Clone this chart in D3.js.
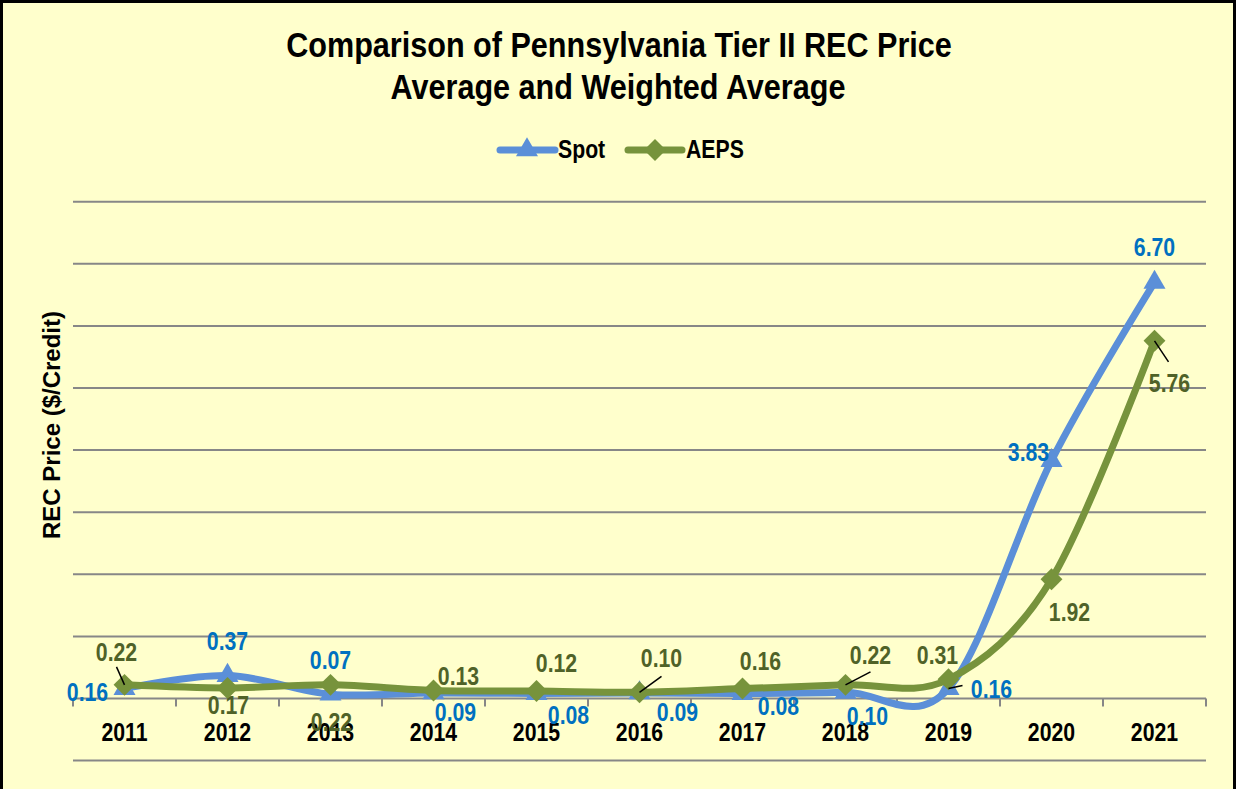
<!DOCTYPE html>
<html><head><meta charset="utf-8">
<script src="https://cdn.jsdelivr.net/npm/d3@7"></script>
<style>html,body{margin:0;padding:0;background:#FFFFCC;}svg{display:block;}</style>
</head><body>
<svg id="chart" width="1236" height="789"></svg>
<script>
const years = ["2011","2012","2013","2014","2015","2016","2017","2018","2019","2020","2021"];
const spot  = [0.16, 0.37, 0.07, 0.09, 0.08, 0.09, 0.08, 0.10, 0.16, 3.83, 6.70];
const aeps  = [0.22, 0.17, 0.22, 0.13, 0.12, 0.10, 0.16, 0.22, 0.31, 1.92, 5.76];
const yTicks = [-1, 0, 1, 2, 3, 4, 5, 6, 7, 8];
const titleLines = ["Comparison of Pennsylvania Tier II REC Price", "Average and Weighted Average"];
const seriesNames = ["Spot", "AEPS"];
const yTitle = "REC Price ($/Credit)";

// label placement (layout only): offsets from the data point
const spotLabelOff = [[-37,3],[0,-35],[0,-34],[22,19],[32,21],[38,19],[36,12],[22,24],[43,0],[-23,-9],[0,-35]];
const aepsLabelOff = [[-8,-33],[1,17],[1,37],[25,-14],[20,-28],[22,-34],[18,-28],[25,-30],[-11,-24],[18,33],[15,42]];
const spotLeader = {8:[14,-3]};
const aepsLeader = {0:[-8,-18], 5:[22,-16], 7:[25,-13], 10:[14,21]};

const SX = 0.85;
const svg = d3.select("#chart");
svg.append("rect").attr("x",0).attr("y",0).attr("width",1236).attr("height",789).attr("fill","#FFFFCC");

const x = d3.scaleBand().domain(years).range([73, 1206]).padding(0);
const y = d3.scaleLinear().domain([-1, 8]).range([760.6, 201.7]);
const cx = d => x(d) + x.bandwidth()/2;

function txt(g, px, py, s, size, fill, anchor, bold=true) {
  return g.append("text")
    .attr("transform", `translate(${px},${py}) scale(${SX},1)`)
    .attr("text-anchor", anchor || "middle")
    .attr("font-family", "'Liberation Sans', Arial, sans-serif")
    .attr("font-weight", bold ? "bold" : "normal")
    .attr("font-size", size)
    .attr("fill", fill)
    .text(s);
}

// gridlines
svg.append("g").selectAll("line").data(yTicks).join("line")
  .attr("x1", 73).attr("x2", 1206)
  .attr("y1", d => y(d)).attr("y2", d => y(d))
  .attr("stroke", "#878787").attr("stroke-width", 2);

// x axis at 0 with ticks between categories
const xAxisG = svg.append("g").attr("transform", `translate(0,${y(0)})`);
const bounds = years.map(d => x(d)).concat([x(years[years.length-1]) + x.bandwidth()]);
xAxisG.selectAll("line.tk").data(bounds).join("line").attr("class","tk")
  .attr("x1", d => d).attr("x2", d => d).attr("y1", 0).attr("y2", 8)
  .attr("stroke", "#878787").attr("stroke-width", 2);

// axis labels
const labG = svg.append("g");
years.forEach(yr => txt(labG, cx(yr), 741, yr, 25, "#000"));

// lines
const line = d3.line().x(d => cx(d.yr)).y(d => y(d.v)).curve(d3.curveCardinal.tension(0));
const spotData = years.map((yr,i) => ({yr, v: spot[i]}));
const aepsData = years.map((yr,i) => ({yr, v: aeps[i]}));
const spotColor = "#5B8FD8", aepsColor = "#77933C";
const spotLab = "#0070C0", aepsLab = "#4F6228";

const tri = d3.symbol().type(d3.symbolTriangle).size(210);
const dia = d3.symbol().type(d3.symbolSquare).size(240);

svg.append("path").datum(spotData).attr("d", line).attr("fill","none")
  .attr("stroke", spotColor).attr("stroke-width", 7).attr("stroke-linecap","round");
svg.append("g").selectAll("path").data(spotData).join("path")
  .attr("d", tri).attr("transform", d => `translate(${cx(d.yr)},${y(d.v)})`).attr("fill", spotColor);

svg.append("path").datum(aepsData).attr("d", line).attr("fill","none")
  .attr("stroke", aepsColor).attr("stroke-width", 7).attr("stroke-linecap","round");
svg.append("g").selectAll("path").data(aepsData).join("path")
  .attr("d", dia).attr("transform", d => `translate(${cx(d.yr)},${y(d.v)}) rotate(45)`).attr("fill", aepsColor);

// leader lines
const ldG = svg.append("g");
function leaders(data, map) {
  Object.keys(map).forEach(k => {
    const d = data[+k], o = map[k];
    ldG.append("line").attr("x1", cx(d.yr)).attr("y1", y(d.v))
      .attr("x2", cx(d.yr)+o[0]).attr("y2", y(d.v)+o[1])
      .attr("stroke","#000").attr("stroke-width",1.5);
  });
}
leaders(aepsData, aepsLeader);
leaders(spotData, spotLeader);

// data labels
const dlG = svg.append("g");
spotData.forEach((d,i) => txt(dlG, cx(d.yr)+spotLabelOff[i][0], y(d.v)+spotLabelOff[i][1]+9, d.v.toFixed(2), 25, spotLab));
aepsData.forEach((d,i) => txt(dlG, cx(d.yr)+aepsLabelOff[i][0], y(d.v)+aepsLabelOff[i][1]+9, d.v.toFixed(2), 25, aepsLab));

// title
txt(svg, 619, 57, titleLines[0], 36, "#000");
txt(svg, 618, 99, titleLines[1], 36, "#000");

// legend
const lg = svg.append("g");
lg.append("line").attr("x1",500).attr("x2",555).attr("y1",150).attr("y2",150)
  .attr("stroke",spotColor).attr("stroke-width",7).attr("stroke-linecap","round");
lg.append("path").attr("d", tri).attr("transform","translate(527,150)").attr("fill",spotColor);
txt(lg, 558, 158, seriesNames[0], 25, "#000", "start");
lg.append("line").attr("x1",628).attr("x2",682).attr("y1",150).attr("y2",150)
  .attr("stroke",aepsColor).attr("stroke-width",7).attr("stroke-linecap","round");
lg.append("path").attr("d", dia).attr("transform","translate(655,150) rotate(45)").attr("fill",aepsColor);
txt(lg, 686, 158, seriesNames[1], 25, "#000", "start");

// y title
svg.append("text").attr("transform","translate(60,425) rotate(-90)")
  .attr("text-anchor","middle").attr("font-family","'Liberation Sans', Arial, sans-serif")
  .attr("font-weight","bold").attr("font-size",24).attr("fill","#000").text(yTitle);

// border
svg.append("rect").attr("x",1.5).attr("y",1.5).attr("width",1233).attr("height",800)
  .attr("fill","none").attr("stroke","#000").attr("stroke-width",3);
</script>
</body></html>
